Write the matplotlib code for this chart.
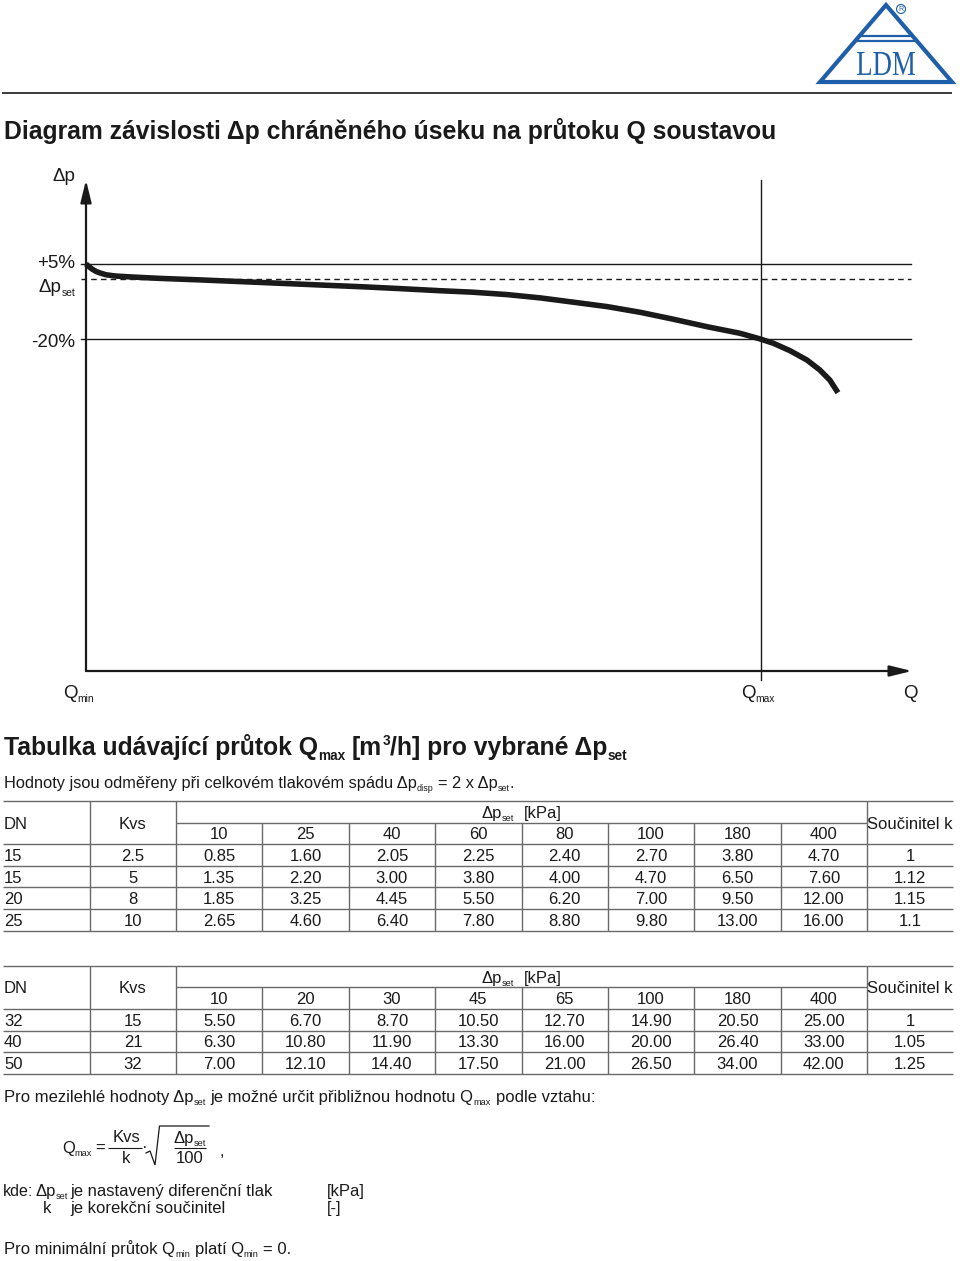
import matplotlib
matplotlib.use("Agg")
import matplotlib.pyplot as plt
from matplotlib.patches import Polygon, Circle, PathPatch
from matplotlib.textpath import TextPath
from matplotlib.font_manager import FontProperties
from matplotlib.transforms import Affine2D

plt.rcParams["font.family"] = ["Liberation Sans", "DejaVu Sans"]

INK = "#1a1a1a"
RULE = "#6a6a6a"
BLUE = "#1f5ea8"
PX = 100 / 72  # pixels per point at dpi 100

# curve: Q relative to Qmax, dp in % of dp_set
curve_q = [0.0, 0.004, 0.009, 0.015, 0.021, 0.030, 0.043, 0.065, 0.110, 0.169,
           0.243, 0.347, 0.410, 0.465, 0.524, 0.573, 0.624, 0.673, 0.721, 0.772,
           0.821, 0.870, 0.920, 0.969, 0.999, 1.018, 1.043, 1.068, 1.087, 1.102, 1.114]
curve_dp = [5.0, 4.2, 3.3, 2.5, 2.0, 1.4, 1.0, 0.7, 0.2, -0.3,
            -1.0, -2.0, -2.6, -3.2, -3.9, -4.4, -5.2, -6.3, -7.7, -9.2,
            -11.1, -13.4, -15.9, -18.1, -20.0, -21.4, -23.9, -27.0, -30.3, -33.7, -37.9]
upper_level = 5
set_level = 0
lower_level = -20
q_max = 1.0

# table 1
dn_1 = [15, 15, 20, 25]
kvs_1 = ["2.5", "5", "8", "10"]
dp_1 = [10, 25, 40, 60, 80, 100, 180, 400]
qmax_1 = [
    [0.85, 1.60, 2.05, 2.25, 2.40, 2.70, 3.80, 4.70],
    [1.35, 2.20, 3.00, 3.80, 4.00, 4.70, 6.50, 7.60],
    [1.85, 3.25, 4.45, 5.50, 6.20, 7.00, 9.50, 12.00],
    [2.65, 4.60, 6.40, 7.80, 8.80, 9.80, 13.00, 16.00],
]
k_1 = ["1", "1.12", "1.15", "1.1"]

# table 2
dn_2 = [32, 40, 50]
kvs_2 = ["15", "21", "32"]
dp_2 = [10, 20, 30, 45, 65, 100, 180, 400]
qmax_2 = [
    [5.50, 6.70, 8.70, 10.50, 12.70, 14.90, 20.50, 25.00],
    [6.30, 10.80, 11.90, 13.30, 16.00, 20.00, 26.40, 33.00],
    [7.00, 12.10, 14.40, 17.50, 21.00, 26.50, 34.00, 42.00],
]
k_2 = ["1", "1.05", "1.25"]

W, H = 960, 1261
fig = plt.figure(figsize=(W / 100, H / 100), dpi=100)
page = fig.add_axes([0, 0, 1, 1])
page.set_xlim(0, W)
page.set_ylim(H, 0)
page.axis("off")
renderer = fig.canvas.get_renderer()


def rich(x, y, parts, size, ha="left", weight="normal", color=INK):
    """Draw text pieces side by side; y is the middle of the capitals."""
    em = size * PX
    base = y + 0.36 * em
    arts, cx = [], x
    for txt, kind in parts:
        s = size if kind == "n" else size * 0.55
        dy = {"n": 0, "sub": 0.2 * em, "sup": -0.42 * em}[kind]
        lead = len(txt) - len(txt.lstrip(" "))
        trail = len(txt) - len(txt.rstrip(" "))
        cx += lead * 0.278 * s * PX
        core = txt.strip(" ")
        if core:
            t = page.text(cx, base + dy, core, fontsize=s, fontweight=weight,
                          color=color, va="baseline", ha="left")
            cx += t.get_window_extent(renderer).width
            arts.append(t)
        cx += trail * 0.278 * s * PX
    width = cx - x
    shift = {"left": 0, "center": width / 2, "right": width}[ha]
    for t in arts:
        t.set_x(t.get_position()[0] - shift)
    return width


def hline(y, x0, x1, color=RULE, lw=1.0, **kw):
    page.plot([x0, x1], [y, y], color=color, lw=lw, solid_capstyle="butt", **kw)


def vline(x, y0, y1, color=RULE, lw=1.0):
    page.plot([x, x], [y0, y1], color=color, lw=lw, solid_capstyle="butt")


# ---- header with logo ----
hline(93, 2, 952, color="#3a3a3a", lw=1.4)
page.add_patch(Polygon([(886, 5), (820, 82), (952, 82)], closed=True, fill=False,
                       ec=BLUE, lw=3.0, joinstyle="miter"))
hline(36, 858, 914, color=BLUE, lw=1.6)
hline(40.5, 854, 918, color=BLUE, lw=1.6)
tp = TextPath((0, 0), "LDM", size=10, prop=FontProperties(family="Liberation Serif"))
bb = tp.get_extents()
tr = Affine2D().translate(-bb.x0, -bb.y0).scale(58 / bb.width, -23 / bb.height).translate(857, 75)
page.add_patch(PathPatch(tr.transform_path(tp), fc=BLUE, lw=0))
page.add_patch(Circle((901, 9), 4.5, fill=False, ec=BLUE, lw=0.8))
page.text(901, 9.3, "R", fontsize=5, color=BLUE, ha="center", va="center")

rich(4, 130, [("Diagram závislosti Δp chráněného úseku na průtoku Q soustavou", "n")],
     17.8, weight="bold")

# ---- diagram ----
ax = fig.add_axes([86 / W, (H - 671) / H, 826 / W, 491 / H])
ax.set_xlim(0, 826 / 675)
ax.set_ylim(-(671 - 279) / 3, (279 - 180) / 3)
ax.axis("off")
arrow = dict(arrowstyle="-|>,head_length=0.9,head_width=0.22", color=INK, lw=1.6,
             shrinkA=0, shrinkB=0, mutation_scale=15)
ax.annotate("", xy=(0, 1), xytext=(0, 0), xycoords="axes fraction", arrowprops=arrow)
ax.annotate("", xy=(1, 0), xytext=(0, 0), xycoords="axes fraction", arrowprops=arrow)
x_end = 825 / 675
for lvl in (upper_level, lower_level):
    ax.plot([-5 / 675, x_end], [lvl, lvl], color=INK, lw=1.0, clip_on=False)
ax.plot([-5 / 675, x_end], [set_level, set_level], color=INK, lw=1.0,
        dashes=(4, 3), clip_on=False)
y_lo, y_hi = ax.get_ylim()
ax.plot([q_max, q_max], [y_lo - 3, y_hi], color=INK, lw=1.0, clip_on=False)
ax.plot(curve_q, curve_dp, color=INK, lw=4.0, solid_capstyle="butt",
        solid_joinstyle="round", clip_on=False)

rich(75, 174, [("Δp", "n")], 13.5, ha="right")
rich(75, 261, [("+5%", "n")], 13.5, ha="right")
rich(75, 285, [("Δp", "n"), ("set", "sub")], 13.5, ha="right")
rich(75, 340, [("-20%", "n")], 13.5, ha="right")
rich(63, 691, [("Q", "n"), ("min", "sub")], 13.5)
rich(741, 691, [("Q", "n"), ("max", "sub")], 13.5)
rich(903, 691, [("Q", "n")], 13.5)

# ---- tables ----
rich(4, 746, [("Tabulka udávající průtok Q", "n"), ("max", "sub"), (" [m", "n"), ("3", "sup"),
              ("/h] pro vybrané Δp", "n"), ("set", "sub")], 17.8, weight="bold")
rich(4, 782, [("Hodnoty jsou odměřeny při celkovém tlakovém spádu Δp", "n"), ("disp", "sub"),
              (" = 2 x Δp", "n"), ("set", "sub"), (".", "n")], 11.8)

col_w = (867 - 176) / 8
edges = [176 + i * col_w for i in range(9)]
RH = 21.6
FS = 12


def draw_table(top, dn, kvs, dps, qs, ks):
    n = len(dn)
    bottom = top + (2 + n) * RH
    hline(top, 3, 953)
    hline(top + RH, 176, 867)
    for i in range(n + 1):
        hline(top + (2 + i) * RH, 3, 953)
    for xe in (90, 176, 867):
        vline(xe, top, bottom)
    for xe in edges[1:-1]:
        vline(xe, top + RH, bottom)
    rich(4, top + RH, [("DN", "n")], FS)
    rich(133, top + RH, [("Kvs", "n")], FS, ha="center")
    rich(910, top + RH, [("Součinitel k", "n")], FS, ha="center")
    rich((176 + 867) / 2, top + 0.5 * RH, [("Δp", "n"), ("set", "sub"), ("  [kPa]", "n")],
         FS, ha="center")
    for j, dp in enumerate(dps):
        rich((edges[j] + edges[j + 1]) / 2, top + 1.5 * RH, [(str(dp), "n")], FS, ha="center")
    for i in range(n):
        yc = top + (2.5 + i) * RH
        rich(4, yc, [(str(dn[i]), "n")], FS)
        rich(133, yc, [(kvs[i], "n")], FS, ha="center")
        for j, q in enumerate(qs[i]):
            rich((edges[j] + edges[j + 1]) / 2, yc, [(f"{q:.2f}", "n")], FS, ha="center")
        rich(910, yc, [(ks[i], "n")], FS, ha="center")


draw_table(801, dn_1, kvs_1, dp_1, qmax_1, k_1)
draw_table(965.7, dn_2, kvs_2, dp_2, qmax_2, k_2)

# ---- formula and notes ----
rich(4, 1096, [("Pro mezilehlé hodnoty Δp", "n"), ("set", "sub"),
               (" je možné určit přibližnou hodnotu Q", "n"), ("max", "sub"),
               (" podle vztahu:", "n")], FS)
rich(62, 1147, [("Q", "n"), ("max", "sub")], FS)
rich(95, 1147, [("=", "n")], FS)
rich(126, 1136, [("Kvs", "n")], FS, ha="center")
hline(1148, 108, 142, color=INK, lw=0.8)
rich(126, 1157, [("k", "n")], FS, ha="center")
page.text(145, 1148, "·", fontsize=FS, color=INK, ha="center", va="center")
page.plot([146, 150, 155, 159.5, 209], [1153, 1151, 1165, 1126, 1126],
          color=INK, lw=0.9, solid_joinstyle="miter")
rich(190, 1137, [("Δp", "n"), ("set", "sub")], FS, ha="center")
hline(1148, 174, 206, color=INK, lw=0.8)
rich(190, 1157, [("100", "n")], FS, ha="center")
rich(220, 1150, [(",", "n")], FS)

rich(3, 1190, [("kde:", "n")], 11.5)
rich(35, 1190, [("Δp", "n"), ("set", "sub")], FS)
rich(70, 1190, [("je nastavený diferenční tlak", "n")], FS)
rich(327, 1190, [("[kPa]", "n")], FS)
rich(43, 1207, [("k", "n")], FS)
rich(70, 1207, [("je korekční součinitel", "n")], FS)
rich(327, 1207, [("[-]", "n")], FS)
rich(4, 1248, [("Pro minimální průtok Q", "n"), ("min", "sub"), (" platí Q", "n"),
               ("min", "sub"), (" = 0.", "n")], FS)

fig.savefig("out.png", dpi=100)
